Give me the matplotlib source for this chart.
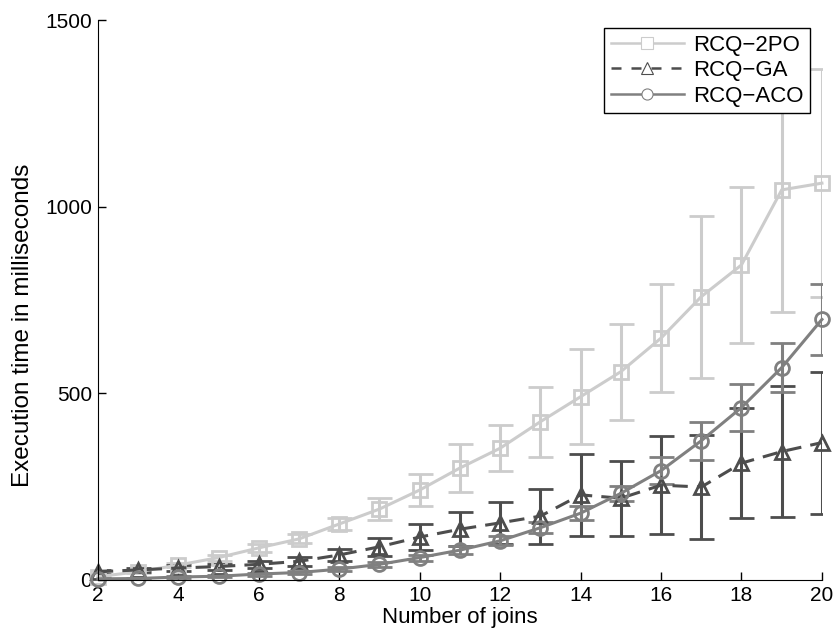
import numpy as np
import matplotlib
matplotlib.use("Agg")
import matplotlib.pyplot as plt
from matplotlib.lines import Line2D

plt.rcParams['font.family'] = ['Liberation Sans', 'DejaVu Sans']

# ── Data ──────────────────────────────────────────────────────────────────────
joins = [2, 3, 4, 5, 6, 7, 8, 9, 10, 11, 12, 13, 14, 15, 16, 17, 18, 19, 20]

po_mean = [9, 22, 40, 60, 86, 110, 150, 190, 241, 300, 353, 424, 491, 558, 648, 759, 844, 1045, 1063]
po_err  = [3, 4, 6, 8, 10, 12, 16, 30, 42, 63, 62, 94, 127, 129, 145, 217, 210, 326, 305]

ga_mean = [22, 27, 32, 36, 42, 50, 67, 89, 115, 136, 153, 171, 228, 219, 254, 249, 313, 344, 368]
ga_err  = [5, 6, 7, 8, 9, 12, 15, 24, 35, 46, 57, 74, 110, 100, 132, 139, 147, 176, 190]

aco_mean = [3, 4, 8, 10, 16, 20, 29, 42, 60, 80, 105, 140, 179, 232, 293, 373, 462, 569, 698]
aco_err  = [2, 2, 3, 3, 4, 5, 6, 7, 8, 10, 12, 14, 18, 20, 36, 51, 62, 66, 96]

labels = ["RCQ\u22122PO", "RCQ\u2212GA", "RCQ\u2212ACO"]
colors = ["#cccccc", "#4d4d4d", "#808080"]
markers = ["s", "^", "o"]
styles = ["-", "--", "-"]

# ── Figure ────────────────────────────────────────────────────────────────────
fig = plt.figure(figsize=(8.37, 6.42), dpi=100)
ax = fig.add_axes([0.117, 0.0966, 0.865, 0.8722])

series = [(po_mean, po_err), (ga_mean, ga_err), (aco_mean, aco_err)]
for (m, e), col, mk, ls in zip(series, colors, markers, styles):
    line, caps, bars = ax.errorbar(joins, m, yerr=e, color=col, ecolor=col,
                                   linestyle=ls, linewidth=2.2, elinewidth=2.2,
                                   capsize=9, capthick=2.2,
                                   marker=mk, markersize=10, markeredgewidth=2.0,
                                   markerfacecolor='none')
    if ls == "--":
        line.set_dashes((5, 3))
    line.set_clip_on(False)

ax.set_xlim(2, 20)
ax.set_ylim(0, 1500)
ax.set_xticks(range(2, 21, 2))
ax.set_yticks([0, 500, 1000, 1500])
ax.spines['top'].set_visible(False)
ax.spines['right'].set_visible(False)
ax.tick_params(direction='in', length=6, width=1, labelsize=15, pad=4)
ax.set_xlabel("Number of joins", fontsize=16, labelpad=2)
ax.set_ylabel("Execution time in milliseconds", fontsize=17.5, labelpad=8)
ax.yaxis.label.set_y(0.455)

handles = [Line2D([], [], color=c, marker=mk, linestyle=ls, linewidth=1.8,
                  markersize=8, markeredgewidth=0.8, markerfacecolor='white')
           for c, mk, ls in zip(colors, markers, styles)]
handles[1].set_dashes((4, 4))
leg = ax.legend(handles, labels, loc='upper right',
                bbox_to_anchor=(810 / 837, 1 - 28 / 642),
                bbox_transform=fig.transFigure, borderaxespad=0,
                fontsize=16, frameon=True, fancybox=False, framealpha=1,
                edgecolor='black', handlelength=3.3, handletextpad=0.4,
                labelspacing=0.2, borderpad=0.3)
leg.get_frame().set_linewidth(1.0)

fig.savefig("out.png", dpi=100)
